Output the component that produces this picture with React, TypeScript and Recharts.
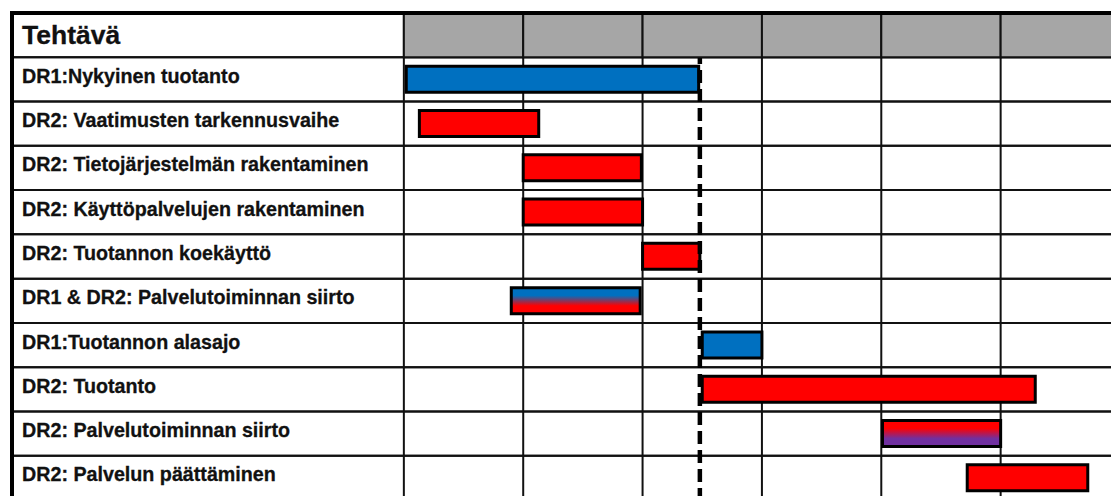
import React from 'react';
import {
  BarChart,
  Bar,
  Cell,
  XAxis,
  YAxis,
  CartesianGrid,
  ReferenceArea,
  ReferenceLine,
} from 'recharts';

// task table (reading order top -> bottom)
const headerLabel = 'Tehtävä';
const tasks = [
  'DR1:Nykyinen tuotanto',
  'DR2: Vaatimusten tarkennusvaihe',
  'DR2: Tietojärjestelmän rakentaminen',
  'DR2: Käyttöpalvelujen rakentaminen',
  'DR2: Tuotannon koekäyttö',
  'DR1 & DR2: Palvelutoiminnan siirto',
  'DR1:Tuotannon alasajo',
  'DR2: Tuotanto',
  'DR2: Palvelutoiminnan siirto',
  'DR2: Palvelun päättäminen',
];
// start / end in period columns
const starts = [0.02, 0.13, 1.0, 1.0, 2.0, 0.9, 2.5, 2.5, 4.01, 4.72];
const ends = [2.47, 1.13, 1.99, 2.0, 2.48, 1.98, 3.0, 5.29, 5.0, 5.73];
const owners = ['DR1', 'DR2', 'DR2', 'DR2', 'DR2', 'DR1+DR2', 'DR1', 'DR2', 'DR2+X', 'DR2'];
// time periods (unlabelled columns)
const periods = [0, 1, 2, 3, 4, 5];
const cutover = 2.48;

const LABEL_COL = -3.283; // label column expressed in period units
const LAST = 6;

const FILLS: Record<string, string> = {
  DR1: '#0070c0',
  DR2: '#ff0000',
  'DR1+DR2': 'url(#gradDr1Dr2)',
  'DR2+X': 'url(#gradDr2X)',
};

const rows = [
  { task: headerLabel, span: null as number[] | null, owner: '' },
  ...tasks.map((t, i) => ({ task: t, span: [starts[i], ends[i]], owner: owners[i] })),
];

const NoTick = () => null;

const LabelTick = (props: any) => {
  const { y, payload } = props;
  const isHeader = payload.value === headerLabel;
  return (
    <text
      x={22}
      y={y + (isHeader ? 9 : 3.5)}
      fill="#111"
      stroke="#111"
      strokeWidth={0.3}
      fontFamily='"Liberation Sans", Arial, sans-serif'
      fontWeight={700}
      fontSize={isHeader ? 26.5 : 19.7}
      textAnchor="start"
    >
      {payload.value}
    </text>
  );
};

export default function App() {
  const lastTask = tasks[tasks.length - 1];
  return (
    <div style={{ position: 'absolute', left: 0, top: 0, width: 1111, height: 496, overflow: 'hidden', background: '#fff' }}>
      <BarChart
        width={1120}
        height={500}
        data={rows}
        layout="vertical"
        margin={{ top: 12, right: 0, bottom: 0, left: 11 }}
      >
        <defs>
          <linearGradient id="gradDr1Dr2" x1="0" y1="0" x2="0" y2="1">
            <stop offset="0%" stopColor="#0070c0" />
            <stop offset="30%" stopColor="#0070c0" />
            <stop offset="70%" stopColor="#ff0000" />
            <stop offset="100%" stopColor="#ff0000" />
          </linearGradient>
          <linearGradient id="gradDr2X" x1="0" y1="0" x2="0" y2="1">
            <stop offset="0%" stopColor="#ff0000" />
            <stop offset="30%" stopColor="#ff0000" />
            <stop offset="70%" stopColor="#7030a0" />
            <stop offset="100%" stopColor="#7030a0" />
          </linearGradient>
        </defs>
        <CartesianGrid horizontal={false} stroke="#111" strokeWidth={2} />
        <XAxis
          type="number"
          domain={[LABEL_COL, LAST]}
          allowDataOverflow
          ticks={[...periods, LAST]}
          interval={0}
          orientation="top"
          height={1}
          tick={<NoTick />}
          axisLine={false}
          tickLine={false}
        />
        <YAxis
          type="category"
          dataKey="task"
          width={1}
          interval={0}
          axisLine={false}
          tickLine={false}
          tick={<LabelTick />}
        />
        {rows.map((r) => (
          <ReferenceArea
            key={'row-' + r.task}
            y1={r.task}
            y2={r.task}
            x1={LABEL_COL}
            x2={LAST}
            fill="none"
            stroke="#111"
            strokeWidth={2}
            fillOpacity={0}
            ifOverflow="visible"
          />
        ))}
        <ReferenceLine
          x={cutover}
          stroke="#000"
          strokeWidth={4.5}
          strokeDasharray="13 6"
          ifOverflow="visible"
        />
        <Bar
          dataKey="span"
          barSize={26}
          stroke="#000"
          strokeWidth={3}
          isAnimationActive={false}
        >
          {rows.map((r, i) => (
            <Cell key={i} fill={r.owner ? FILLS[r.owner] : 'none'} />
          ))}
        </Bar>
        {periods.map((p) => (
          <ReferenceArea
            key={'hdr-' + p}
            y1={headerLabel}
            y2={headerLabel}
            x1={p}
            x2={p + 1}
            fill="#a6a6a6"
            fillOpacity={1}
            stroke="#111"
            strokeWidth={2}
            ifOverflow="visible"
            zIndex={450}
          />
        ))}
        <ReferenceArea
          y1={headerLabel}
          y2={lastTask}
          x1={LABEL_COL}
          x2={LAST}
          fill="none"
          fillOpacity={0}
          stroke="#000"
          strokeWidth={4}
          ifOverflow="visible"
          zIndex={460}
        />
      </BarChart>
    </div>
  );
}
